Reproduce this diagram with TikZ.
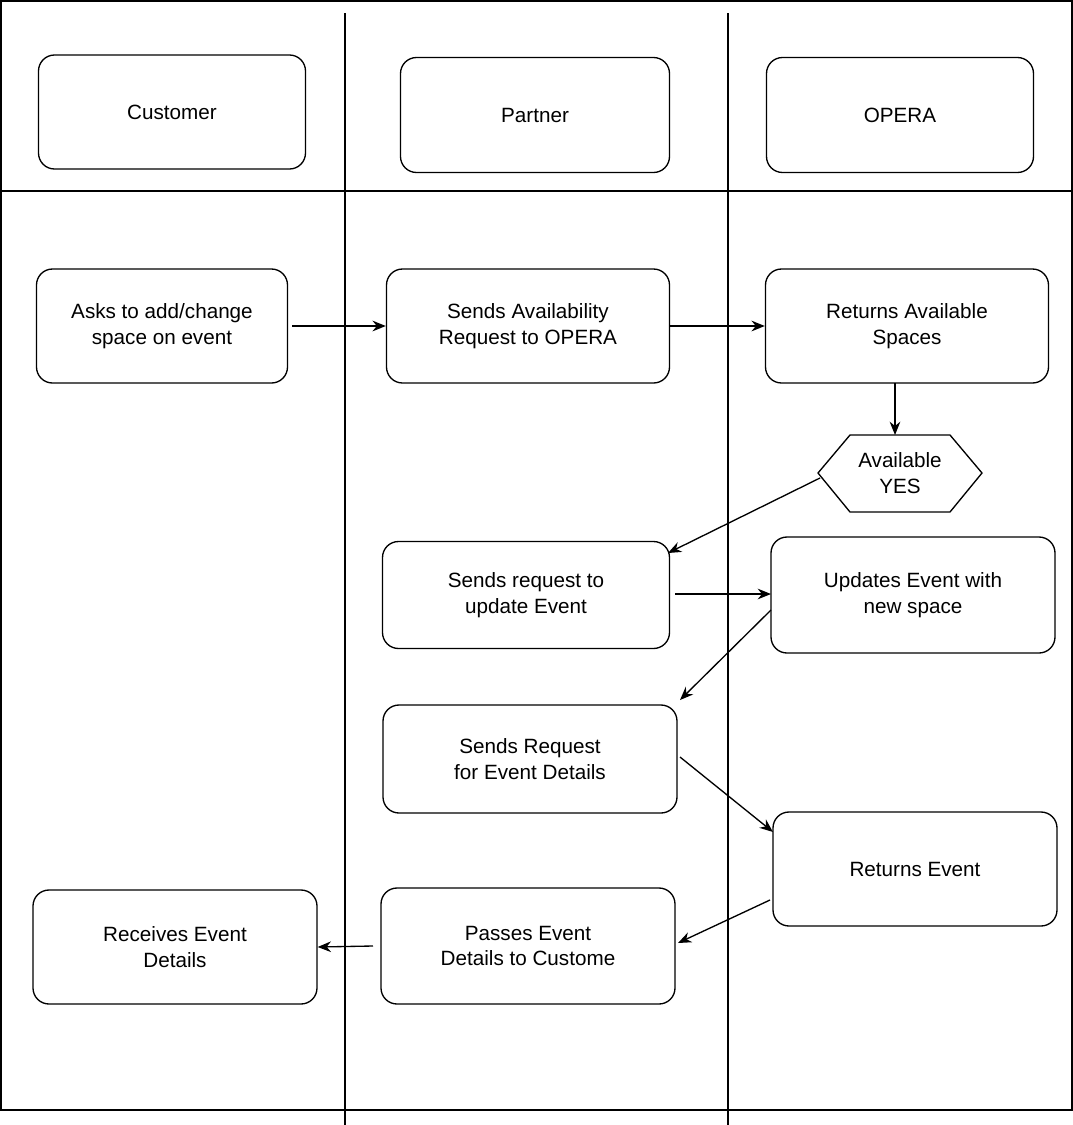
\documentclass[tikz,border=0pt]{standalone}
\usepackage{fontspec}
\setmainfont{Liberation Sans}
\usetikzlibrary{arrows.meta}
\begin{document}
\begin{tikzpicture}[x=0.75pt, y=-0.75pt, line width=1pt,
    box/.style={draw, rounded corners=12pt, align=center, font=\fontsize{15.5}{19}\selectfont},
    flow/.style={-{Stealth[length=10pt,width=8pt]}}]
    \useasboundingbox (0,0) rectangle (1073,1125);
    \fill[white] (0,0) rectangle (1073,1125);
    % Lanes
    \draw (1,1) -- (1072,1) -- (1072,1110) -- (1,1110) -- cycle;
    \draw (0,191) -- (1073,191);
    \draw (345,13) -- (345,1125);
    \draw (728,13) -- (728,1125);
    % Headers
    \node[box, minimum width=267*0.75pt, minimum height=114*0.75pt] (cust) at (172,112) {Customer};
    \node[box, minimum width=269*0.75pt, minimum height=115*0.75pt] (part) at (535,115) {Partner};
    \node[box, minimum width=267*0.75pt, minimum height=115*0.75pt] (opera) at (900,115) {OPERA};
    % Steps
    \node[box, minimum width=251*0.75pt, minimum height=114*0.75pt] (ask) at (162,326) {Asks to add/change\\space on event};
    \node[box, minimum width=283*0.75pt, minimum height=114*0.75pt] (avreq) at (528,326) {Sends Availability\\Request to OPERA};
    \node[box, minimum width=283*0.75pt, minimum height=114*0.75pt] (avret) at (907,326) {Returns Available\\Spaces};
    \draw (818,473) -- (850,435) -- (950,435) -- (982,473) -- (950,512) -- (850,512) -- cycle;
    \node[align=center, font=\fontsize{15.5}{19}\selectfont] (avail) at (900,473) {Available\\YES};
    \coordinate (availw) at (820,478);
    \node[box, minimum width=287*0.75pt, minimum height=107*0.75pt] (updreq) at (526,595) {Sends request to\\update Event};
    \node[box, minimum width=284*0.75pt, minimum height=116*0.75pt] (upd) at (913,595) {Updates Event with\\new space};
    \node[box, minimum width=294*0.75pt, minimum height=108*0.75pt] (detreq) at (530,759) {Sends Request\\for Event Details};
    \node[box, minimum width=284*0.75pt, minimum height=114*0.75pt] (ret) at (915,869) {Returns Event};
    \node[box, minimum width=294*0.75pt, minimum height=116*0.75pt] (pass) at (528,946) {Passes Event\\Details to Custome};
    \node[box, minimum width=284*0.75pt, minimum height=114*0.75pt] (recv) at (175,947) {Receives Event\\Details};
    % Edges
    \draw[flow] (ask.east) ++(4,0) -- (avreq.west);
    \draw[flow] (avreq.east) -- (avret.west);
    \draw[flow] (895,383) -- (895,435);
    \draw[flow] (availw) -- (668,553);
    \draw[flow] (675,594) -- (771,594);
    \draw[flow] (771,610) -- (680,700);
    \draw[flow] (680,757) -- (773,832);
    \draw[flow] (770,900) -- (678,943);
    \draw[flow] (373,946) -- (recv.east);
\end{tikzpicture}
\end{document}
